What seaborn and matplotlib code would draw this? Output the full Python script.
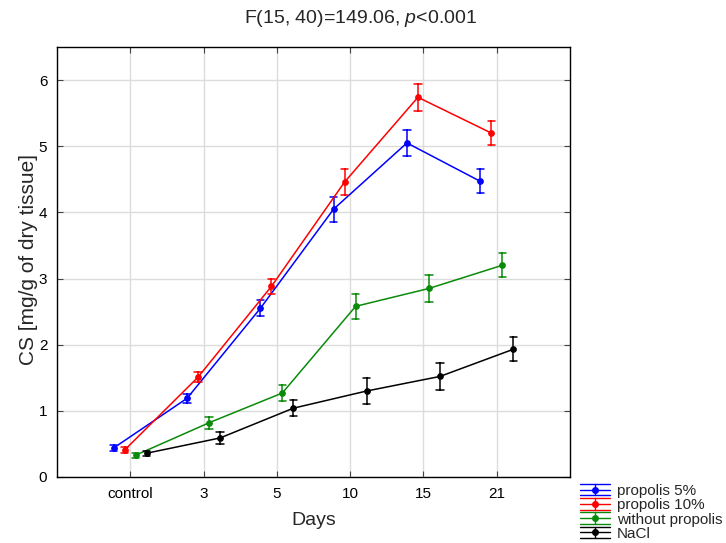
import matplotlib
matplotlib.use("Agg")
import matplotlib.pyplot as plt
import numpy as np
import pandas as pd
import seaborn as sns
from matplotlib.lines import Line2D
from matplotlib.legend_handler import HandlerBase

days = ["control", "3", "5", "10", "15", "21"]
groups = ["propolis 5%", "propolis 10%", "without propolis", "NaCl"]
colors = ["#0000ff", "#ff0000", "#0a8a0a", "#000000"]

mean_p5 = [0.44, 1.19, 2.55, 4.05, 5.05, 4.47]
err_p5 = [0.05, 0.07, 0.12, 0.19, 0.20, 0.18]
mean_p10 = [0.41, 1.51, 2.88, 4.46, 5.74, 5.20]
err_p10 = [0.04, 0.08, 0.12, 0.19, 0.20, 0.18]
mean_wo = [0.33, 0.82, 1.27, 2.58, 2.85, 3.20]
err_wo = [0.04, 0.09, 0.12, 0.19, 0.20, 0.18]
mean_nacl = [0.36, 0.59, 1.04, 1.30, 1.52, 1.93]
err_nacl = [0.04, 0.09, 0.12, 0.20, 0.20, 0.18]

means = [mean_p5, mean_p10, mean_wo, mean_nacl]
errs = [err_p5, err_p10, err_wo, err_nacl]

# long table: low / high end of each bar, mean of the two is the point
rows = []
for g, m, e in zip(groups, means, errs):
    for d, mm, ee in zip(days, m, e):
        rows.append({"day": d, "group": g, "cs": mm - ee})
        rows.append({"day": d, "group": g, "cs": mm + ee})
df = pd.DataFrame(rows)

sns.set_theme(style="whitegrid")
plt.rcParams["font.family"] = ["Liberation Sans", "DejaVu Sans"]
plt.rcParams["mathtext.fontset"] = "custom"
plt.rcParams["mathtext.rm"] = "Liberation Sans"
plt.rcParams["mathtext.it"] = "Liberation Sans:italic"

fig = plt.figure(figsize=(7.26, 5.43), dpi=100)
ax = fig.add_axes([57 / 726, 1 - 477 / 543, (570 - 57) / 726, (477 - 47) / 543])

sns.pointplot(
    data=df, x="day", y="cs", hue="group", order=days, hue_order=groups,
    palette=colors, estimator="mean", errorbar=lambda v: (v.min(), v.max()),
    dodge=0.45, capsize=0.1, markers="o", markersize=4, linewidth=1.1,
    err_kws={"linewidth": 1.1}, legend=False, ax=ax,
)

ax.set_xlim(-1, 6)
ax.set_ylim(0, 6.5)
ax.set_yticks(range(0, 7))
ax.grid(True, color="#dcdcdc", linewidth=1)
ax.set_axisbelow(True)
for s in ax.spines.values():
    s.set_color("black")
    s.set_linewidth(1)
ax.tick_params(axis="both", which="both", direction="in", length=4, width=0.8,
               color="#444444", top=True, right=True, bottom=True, left=True,
               labelsize=11, labelcolor="black", pad=7)
ax.set_xlabel("Days", fontsize=14)
ax.xaxis.set_label_coords(0.5, -0.082)
ax.set_ylabel("CS [mg/g of dry tissue]", fontsize=15)
ax.yaxis.set_label_coords(-0.056, 0.505)
ax.yaxis.label.set_va("center")
fig.suptitle("F(15, 40)=149.06, $\\mathit{p}$<0.001", x=0.497, y=0.985, va="top", fontsize=14)


class ErrHandler(HandlerBase):
    def create_artists(self, legend, orig, xd, yd, w, h, fontsize, trans):
        c = orig.get_color()
        x0, x1 = -xd, -xd + w
        xm = (x0 + x1) / 2
        yc = -yd + h / 2
        cap = h * 0.55
        return [
            Line2D([x0, x1], [yc, yc], color=c, lw=1, transform=trans),
            Line2D([x0, x1], [yc + cap, yc + cap], color=c, lw=1, transform=trans),
            Line2D([x0, x1], [yc - cap, yc - cap], color=c, lw=1, transform=trans),
            Line2D([xm, xm], [yc - cap, yc + cap], color=c, lw=1, transform=trans),
            Line2D([xm], [yc], color=c, marker="o", markersize=4,
                   linestyle="none", transform=trans),
        ]


handles = [Line2D([], [], color=c) for c in colors]
fig.legend(handles, groups, loc="lower left", bbox_to_anchor=(580 / 726, 0.004),
           frameon=False, fontsize=11, handlelength=1.95, handletextpad=0.45,
           labelspacing=0.02, borderpad=0.0, borderaxespad=0.0,
           handler_map={Line2D: ErrHandler()})

fig.savefig("out.png", dpi=100, facecolor="white")
